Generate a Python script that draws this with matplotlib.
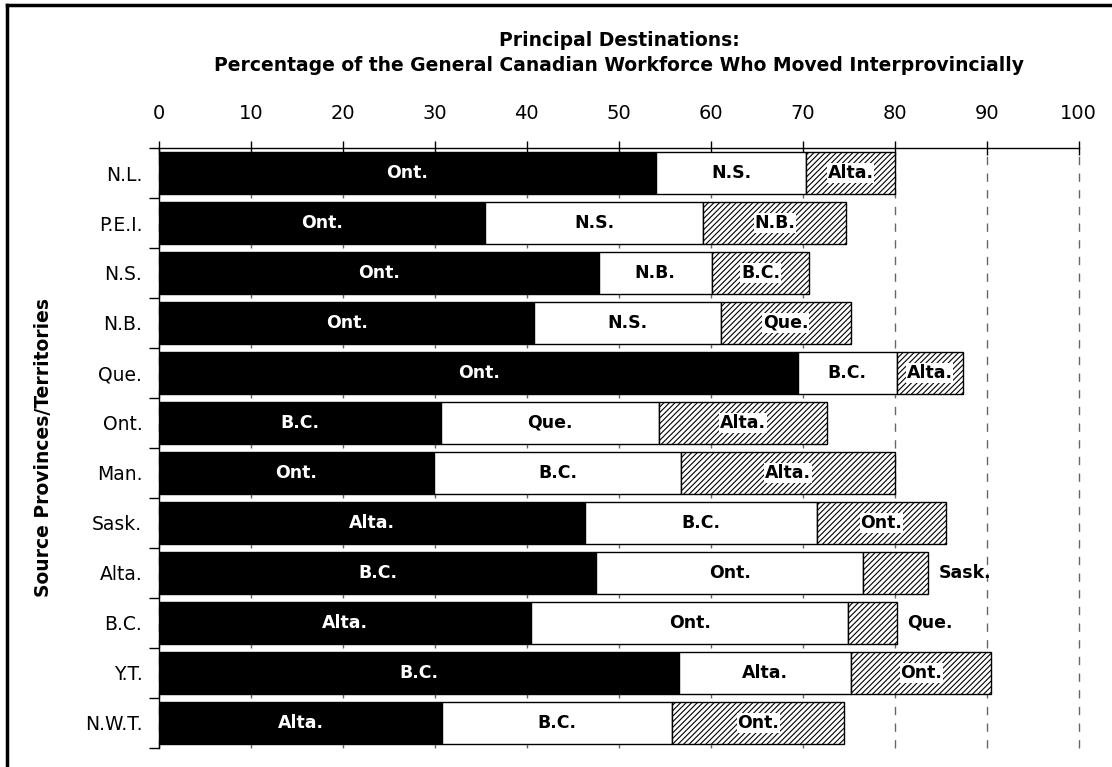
import numpy as np
import matplotlib
matplotlib.use('Agg')
import matplotlib.pyplot as plt
from matplotlib.lines import Line2D

plt.rcParams['font.family'] = ['DejaVu Sans']
plt.rcParams['hatch.linewidth'] = 0.8
plt.rcParams['hatch.color'] = '#444444'

# ── Data ───────────────────────────────────────────────────────────────────
SOURCES = ["N.L.", "P.E.I.", "N.S.", "N.B.", "Que.", "Ont.", "Man.",
           "Sask.", "Alta.", "B.C.", "Y.T.", "N.W.T."]

FIRST_DEST  = ["Ont.", "Ont.", "Ont.", "Ont.", "Ont.", "B.C.", "Ont.",
               "Alta.", "B.C.", "Alta.", "B.C.", "Alta."]
SECOND_DEST = ["N.S.", "N.S.", "N.B.", "N.S.", "B.C.", "Que.", "B.C.",
               "B.C.", "Ont.", "Ont.", "Alta.", "B.C."]
THIRD_DEST  = ["Alta.", "N.B.", "B.C.", "Que.", "Alta.", "Alta.", "Alta.",
               "Ont.", "Sask.", "Que.", "Ont.", "Ont."]

FIRST_PCT  = [54.0, 35.4, 47.8, 40.8, 69.5, 30.7, 29.9, 46.3, 47.5, 40.5, 56.5, 30.8]
SECOND_PCT = [16.4, 23.8, 12.3, 20.3, 10.7, 23.7, 26.9, 25.2, 29.1, 34.4, 18.8, 25.0]
THIRD_PCT  = [9.6, 15.5, 10.6, 14.1, 7.2, 18.2, 23.2, 14.1, 7.0, 5.3, 15.2, 18.7]

# third-place labels that don't fit inside their segment
OUTSIDE = ["Alta.", "B.C."]

# ── Figure ─────────────────────────────────────────────────────────────────
fig = plt.figure(figsize=(11.12, 7.67), dpi=100)
ax = fig.add_axes([0.143, 0.025, 0.827, 0.782])

y = np.arange(len(SOURCES))
h = 0.84
first = np.array(FIRST_PCT)
second = np.array(SECOND_PCT)
third = np.array(THIRD_PCT)

ax.barh(y, first, height=h, color="black", edgecolor="black", lw=1, zorder=2)
ax.barh(y, second, left=first, height=h, color="white", edgecolor="black",
        lw=1, zorder=2)
ax.barh(y, third, left=first + second, height=h, color="white",
        edgecolor="black", hatch="//////", lw=1, zorder=2)

lab_kw = dict(fontsize=12.5, fontweight="bold", va="center", zorder=3)
for i, src in enumerate(SOURCES):
    ax.text(first[i] / 2, i, FIRST_DEST[i], color="white", ha="center", **lab_kw)
    ax.text(first[i] + second[i] / 2, i, SECOND_DEST[i], color="black",
            ha="center", **lab_kw)
    end = first[i] + second[i] + third[i]
    if src in OUTSIDE:
        ax.text(end + 1.2, i, THIRD_DEST[i], color="black", ha="left", **lab_kw)
    else:
        ax.text(end - third[i] / 2, i, THIRD_DEST[i], color="black", ha="center",
                bbox=dict(facecolor="white", edgecolor="none", pad=0.5), **lab_kw)

# ── Axes styling ───────────────────────────────────────────────────────────
ax.set_xlim(0, 100)
ax.set_ylim(len(SOURCES) - 0.5, -0.5)
ax.xaxis.tick_top()
ax.set_xticks(np.arange(0, 101, 10))
ax.tick_params(axis="x", direction="inout", length=10, width=1, labelsize=14,
               pad=13)
ax.set_yticks(y)
ax.set_yticklabels(SOURCES, fontsize=13.5)
ax.set_yticks(np.arange(-0.5, len(SOURCES), 1), minor=True)
ax.tick_params(axis="y", which="major", length=0, pad=12)
ax.tick_params(axis="y", which="minor", direction="out", length=7, width=1)

ax.xaxis.grid(True, linestyle=(0, (6, 6)), color="#666666", lw=1, zorder=0)
for gl in ax.get_xgridlines():
    gl.set_clip_on(False)
ax.set_axisbelow(True)

for side in ["right", "bottom"]:
    ax.spines[side].set_visible(False)
ax.spines["top"].set_linewidth(1)
ax.spines["left"].set_linewidth(1)

ax.set_ylabel("Source Provinces/Territories", fontsize=13.5, fontweight="bold",
              labelpad=23)

fig.text(0.557, 0.947, "Principal Destinations:", ha="center", va="center",
         fontsize=13.5, fontweight="bold")
fig.text(0.557, 0.915,
         "Percentage of the General Canadian Workforce Who Moved Interprovincially",
         ha="center", va="center", fontsize=13.5, fontweight="bold")

# outer frame (left + top edges visible in the original)
fig.add_artist(Line2D([0.006, 0.006], [0.0, 0.994], color="black", lw=2.5,
                      transform=fig.transFigure))
fig.add_artist(Line2D([0.006, 1.0], [0.994, 0.994], color="black", lw=2.5,
                      transform=fig.transFigure))

fig.savefig("out.png", dpi=100)
